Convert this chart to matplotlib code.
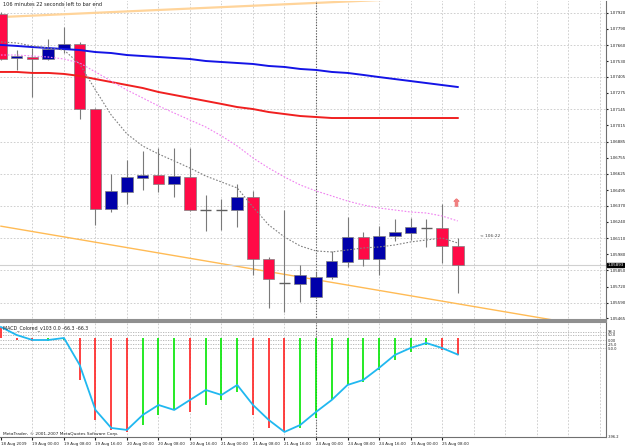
import matplotlib
matplotlib.use("Agg")
import matplotlib.pyplot as plt
import matplotlib.transforms as mtransforms
import numpy as np

# ---- H4 candles, 18 Aug 16:00 .. 25 Aug 12:00 (bar index 0..29) ----
opens = [1.07910, 1.07556, 1.07564, 1.07548, 1.07628, 1.07669, 1.07146, 1.06343,
         1.06480, 1.06592, 1.06616, 1.06544, 1.06600, 1.06335, 1.06335, 1.06335,
         1.06440, 1.05941, 1.05749, 1.05741, 1.05636, 1.05797, 1.05917, 1.06118,
         1.05941, 1.06126, 1.06150, 1.06190, 1.06190, 1.06046]
highs = [1.07926, 1.07620, 1.07636, 1.07709, 1.07805, 1.07685, 1.07154, 1.06624,
         1.06737, 1.06809, 1.06833, 1.06833, 1.06833, 1.06456, 1.06423, 1.06544,
         1.06488, 1.05957, 1.06335, 1.05893, 1.05837, 1.06006, 1.06279, 1.06158,
         1.06207, 1.06263, 1.06271, 1.06263, 1.06383, 1.06110]
lows = [1.07540, 1.07460, 1.07243, 1.07540, 1.07596, 1.07066, 1.06215, 1.06319,
        1.06383, 1.06496, 1.06480, 1.06440, 1.06327, 1.06166, 1.06174, 1.06198,
        1.05813, 1.05548, 1.05516, 1.05596, 1.05628, 1.05781, 1.05877, 1.05885,
        1.05813, 1.06086, 1.06094, 1.06038, 1.05909, 1.05668]
closes = [1.07548, 1.07572, 1.07548, 1.07628, 1.07669, 1.07146, 1.06343, 1.06488,
          1.06600, 1.06616, 1.06544, 1.06608, 1.06335, 1.06335, 1.06335, 1.06440,
          1.05941, 1.05781, 1.05749, 1.05813, 1.05797, 1.05925, 1.06118, 1.05941,
          1.06126, 1.06158, 1.06198, 1.06190, 1.06046, 1.05893]

# moving averages
ma_blue = [1.07661, 1.07653, 1.07644, 1.07636, 1.07628, 1.07620, 1.07604, 1.07596,
           1.07580, 1.07572, 1.07564, 1.07556, 1.07548, 1.07532, 1.07524, 1.07516,
           1.07508, 1.07492, 1.07484, 1.07468, 1.07460, 1.07444, 1.07436, 1.07420,
           1.07403, 1.07387, 1.07371, 1.07355, 1.07339, 1.07323]
ma_red = [1.07444, 1.07444, 1.07436, 1.07436, 1.07428, 1.07412, 1.07387, 1.07363,
          1.07339, 1.07315, 1.07283, 1.07259, 1.07235, 1.07211, 1.07187, 1.07162,
          1.07146, 1.07122, 1.07106, 1.07090, 1.07082, 1.07074, 1.07074, 1.07074,
          1.07074, 1.07074, 1.07074, 1.07074, 1.07074, 1.07074]
ma_pink = [1.07580, 1.07580, 1.07572, 1.07564, 1.07548, 1.07516, 1.07444, 1.07371,
           1.07299, 1.07235, 1.07171, 1.07114, 1.07058, 1.07002, 1.06930, 1.06849,
           1.06753, 1.06672, 1.06600, 1.06536, 1.06488, 1.06448, 1.06407, 1.06375,
           1.06351, 1.06335, 1.06319, 1.06311, 1.06287, 1.06247]
ma_gray = [1.07685, 1.07677, 1.07653, 1.07636, 1.07620, 1.07508, 1.07299, 1.07098,
           1.06946, 1.06849, 1.06785, 1.06729, 1.06672, 1.06608, 1.06560, 1.06512,
           1.06359, 1.06215, 1.06118, 1.06046, 1.06006, 1.05998, 1.06014, 1.06030,
           1.06038, 1.06054, 1.06078, 1.06094, 1.06110, 1.06070]

# trend lines: (bar, price) anchors
trend_top = [(0, 1.07885), (38, 1.08101)]
trend_bot = [(0, 1.06205), (38, 1.05388)]

# MACD panel
macd_hist = [44, -8, -12, -12, -8, -168, -328, -368, -376, -348, -308, -288, -296,
             -268, -248, -216, -308, -360, -376, -360, -320, -248, -188, -176, -128,
             -88, -56, -28, -48, -66.3]
macd_up = [0, 0, 0, 1, 1, 0, 0, 0, 0, 1, 1, 1, 0, 1, 1, 1, 0, 0, 0, 1, 1, 1, 1, 1,
           1, 1, 1, 1, 0, 0]
macd_signal = [44, 12, -8, -8, 0, -108, -288, -360, -368, -308, -268, -288, -248,
               -208, -228, -188, -268, -328, -376, -348, -296, -248, -188, -168, -120,
               -68, -40, -20, -40, -66.3]
macd_levels = [25, 12.5, -8.3, -25, -41.7]
macd_labels = ["98.3", "50.0", "0.00", "-25.0", "-50.0"]

price_labels = ["1.07920", "1.07790", "1.07660", "1.07530", "1.07405", "1.07275",
                "1.07145", "1.07015", "1.06885", "1.06755", "1.06625", "1.06495",
                "1.06370", "1.06240", "1.06110", "1.05980", "1.05850", "1.05720",
                "1.05590", "1.05465"]
time_labels = ["18 Aug 2009", "19 Aug 00:00", "19 Aug 08:00", "19 Aug 16:00",
               "20 Aug 00:00", "20 Aug 08:00", "20 Aug 16:00", "21 Aug 00:00",
               "21 Aug 08:00", "21 Aug 16:00", "24 Aug 00:00", "24 Aug 08:00",
               "24 Aug 16:00", "25 Aug 00:00", "25 Aug 08:00"]
time_label_bars = list(range(0, 30, 2))

BULL, BEAR, WICK = "#0000aa", "#ff0a46", "#7a7a7a"
GRID = dict(color="#c8c8c8", lw=0.6, ls=(0, (2, 2)), zorder=0)
FS = 2.85

W, H = 625, 447


def rect(l, t, r, b):
    return [l / W, 1 - b / H, (r - l) / W, (b - t) / H]


fig = plt.figure(figsize=(6.25, 4.47), dpi=100)
ax = fig.add_axes(rect(0, 1, 606, 320))
axm = fig.add_axes(rect(0, 322, 606, 437), sharex=ax)

o, h, l, c = map(np.asarray, (opens, highs, lows, closes))
x = np.arange(len(o))
xlim = (-0.06, 38.41)

# grid
ax.hlines([float(s) for s in price_labels[::2]], *xlim, **GRID)
grid_x = np.arange(2, 39, 2)
ax.vlines(grid_x, 1.0, 1.1, **GRID)
axm.vlines(grid_x, -1000, 1000, **GRID)
axm.hlines(macd_levels, *xlim, color="#b0b0b0", lw=0.6, ls=(0, (1.5, 1.5)), zorder=0)

# trend lines
for pts, col, lw in ((trend_top, "#ffd49a", 1.6), (trend_bot, "#ffbb55", 1.0)):
    ax.plot([p[0] for p in pts], [p[1] for p in pts], color=col, lw=lw, zorder=1)

# moving averages
ax.plot(x, ma_blue, color="#1414e6", lw=1.4, zorder=4)
ax.plot(x, ma_red, color="#f02020", lw=1.4, zorder=4)
ax.plot(x, ma_pink, color="#f080f0", lw=0.8, ls=(0, (1.5, 1.5)), zorder=4)
ax.plot(x, ma_gray, color="#808080", lw=0.8, ls=(0, (1.5, 1.5)), zorder=4)

# current price line + period separator
ax.axhline(c[-1], color="#d0d0d0", lw=0.8, zorder=1)
ax.axvline(20, color="#555555", lw=0.8, ls=(0, (1, 1.5)), zorder=2)
axm.axvline(20, color="#555555", lw=0.8, ls=(0, (1, 1.5)), zorder=2)

# candles
ax.vlines(x, l, h, color=WICK, lw=0.8, zorder=2)
doji = np.isclose(o, c)
up = (c > o) & ~doji
dn = (c < o) & ~doji
bw = 0.73
ax.bar(x[up], (c - o)[up], bottom=o[up], width=bw, color=BULL,
       edgecolor="#808080", lw=0.5, zorder=3)
ax.bar(x[dn], (o - c)[dn], bottom=c[dn], width=bw, color=BEAR,
       edgecolor="#808080", lw=0.5, zorder=3)
ax.hlines(o[doji], x[doji] - bw / 2, x[doji] + bw / 2, color="#606060", lw=1.0, zorder=3)

# fractal arrow and countdown
ax.plot(28.9, 1.06399, marker="$\u21e7$", color="#f08080", ms=5, zorder=5)
ax.text(30.4, 1.06126, "< 106:22", fontsize=3.2, color="#404040", va="center")
ax.text(0.005, 0.997, "106 minutes 22 seconds left to bar end", transform=ax.transAxes,
        fontsize=3.6, va="top", ha="left", color="#202020")

ax.set_xlim(*xlim)
ax.set_ylim(1.054513, 1.08014)
ax.yaxis.tick_right()
ax.set_yticks([float(s) for s in price_labels], price_labels)
ax.tick_params(axis="y", labelsize=FS, length=1.5, pad=0.8, colors="#202020")
ax.tick_params(axis="x", bottom=False, labelbottom=False)
for s in ("left", "top"):
    ax.spines[s].set_visible(False)
ax.spines["right"].set_color("#707070")
ax.spines["bottom"].set_color("#909090")
ax.spines["bottom"].set_linewidth(1.5)

# price tag
trans = mtransforms.blended_transform_factory(ax.transAxes, ax.transData)
ax.text(1.002, c[-1], f"{c[-1]:.5f}", transform=trans, fontsize=FS, color="white",
        va="center", ha="left", bbox=dict(boxstyle="square,pad=0.1", fc="black", ec="black"))

# MACD
hist = np.asarray(macd_hist)
upm = np.asarray(macd_up, bool)
axm.vlines(x[upm], 0, hist[upm], color="#00e600", lw=1.2, zorder=2)
axm.vlines(x[~upm], 0, hist[~upm], color="#ff2020", lw=1.2, zorder=2)
axm.plot(x, macd_signal, color="#20b8f0", lw=1.3, zorder=3)
axm.set_ylim(-396.2, 64)
axm.yaxis.tick_right()
axm.set_yticks(macd_levels + [-396.2], macd_labels + ["-396.2"])
axm.tick_params(axis="y", labelsize=2.6, length=0, pad=1.5, colors="#202020")
axm.set_xticks(time_label_bars, time_labels, ha="left")
axm.tick_params(axis="x", labelsize=FS, length=2.5, pad=1, colors="#202020")
axm.spines["left"].set_visible(False)
axm.spines["top"].set_color("#909090")
axm.spines["top"].set_linewidth(1.5)
axm.spines["right"].set_color("#707070")
axm.spines["bottom"].set_color("#707070")
axm.text(0.005, 0.97, "MACD_Colored_v103 0.0 -66.3 -66.3", transform=axm.transAxes,
         fontsize=3.4, va="top", ha="left", color="#202020")
axm.text(0.005, 0.01, "MetaTrader, \u00a9 2001-2007 MetaQuotes Software Corp.",
         transform=axm.transAxes, fontsize=3.1, va="bottom", ha="left", color="#202020")

fig.savefig("out.png", dpi=100)
